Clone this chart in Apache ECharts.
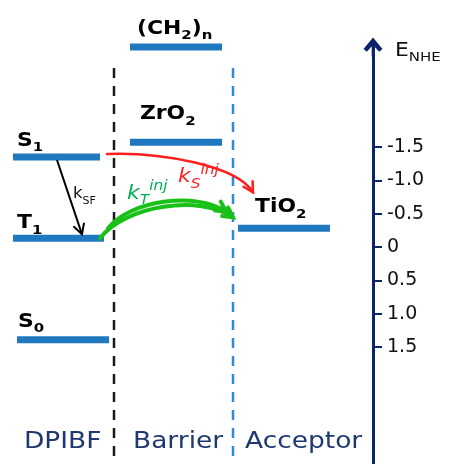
<!DOCTYPE html>
<html><head><meta charset="utf-8">
<script src="https://cdn.jsdelivr.net/npm/echarts@6/dist/echarts.min.js"></script>
<style>html,body{margin:0;padding:0;background:#fff}#c{width:449px;height:464px}</style>
</head><body><div id="c"></div>
<script>
// ---------------- data ----------------
const columns = ['DPIBF', 'Barrier', 'Acceptor'];
const levelNames = ['S1', 'T1', 'S0', '(CH2)n', 'ZrO2', 'TiO2'];
const levelLabels = ['S{sb|1}', 'T{sb|1}', 'S{sb|0}', '(CH{sb|2}){sb|n}', 'ZrO{sb|2}', 'TiO{sb|2}'];
const levelEnergy = [-1.35, -0.13, 1.39, -3.0, -1.57, -0.28];
const levelColumn = [0, 0, 0, 1, 1, 2];
const tickValues = [-1.5, -1.0, -0.5, 0, 0.5, 1.0, 1.5];
const tickLabels = ['-1.5', '-1.0', '-0.5', '0', '0.5', '1.0', '1.5'];
const transFrom = [0, 0, 1];
const transTo = [1, 5, 5];
const transLabels = ['k{sb|SF}', 'k{sb|S}{sp|inj}', 'k{sb|T}{sp|inj}'];
const axisTitle = 'E{sb|NHE}';

// ---------------- layout / style ----------------
const W = 449, H = 464, AXIS_X = 373;
const PX_PER_EV = 66.7, ZERO_Y = 247, AX_TOP = 47;
const Y_MIN = (AX_TOP - ZERO_Y) / PX_PER_EV, Y_MAX = (H - ZERO_Y) / PX_PER_EV;
const NAVY = '#0c2468', BAR = '#1f78c0', HEAD_NAVY = '#1f3870';
const FONT = 'DejaVu Sans';
const STRETCH = 1.15;
const LEVEL_SPAN = [[13, 100], [13, 104], [17, 109], [130, 222], [130, 222], [238, 330]];
const LABEL_POS = [[4, 16], [4, 15], [1, 18], [7, 18], [10, 28], [17, 21]];
const COLUMN_X = [24, 133, 245], COLUMN_Y = 442;
const SEP = [{ x: 114, color: '#1a1a1a' }, { x: 233, color: '#2f8ad4' }], SEP_TOP = 68;
const ARROW_STYLE = [
  { color: '#000', width: 2, text: '#111', size: 15, italic: false, label: [16, 34] },
  { color: '#ff1f1f', width: 2.5, text: '#ff2020', size: 20, italic: true, label: [71, 23] },
  { color: '#18c018', width: 4, text: '#00b050', size: 20, italic: true, label: [27, -45] }
];
const ARROW_CURVES = [
  [{ x0: 57, dy0: 3, x1: 82, dy1: -4 }],
  [{ x0: 107, dy0: -3, x1: 253, dy1: -36, c1: [53, -2], c2: [-16, -27] }],
  [{ x0: 100, dy0: 0, x1: 233, dy1: -11, c1: [25, -33], c2: [-33, -23] },
   { x0: 108, dy0: -10, x1: 226, dy1: -17, c1: [22, -28], c2: [-31, -20] }]
];

function richFor(size, weight, style, color) {
  const base = { fontFamily: FONT, fontWeight: weight, fontStyle: style, fill: color };
  return {
    sb: Object.assign({}, base, { fontSize: Math.round(size * 0.68), padding: [14, 0, 0, 0] }),
    sp: Object.assign({}, base, { fontSize: Math.round(size * 0.68), padding: [0, 0, 14, 0] })
  };
}
function textEl(x, y, text, size, weight, style, color, sx) {
  return {
    type: 'text', x: x, y: y, scaleX: sx || 1,
    style: {
      text: text, fontSize: size, fontFamily: FONT, fontWeight: weight, fontStyle: style,
      fill: color, align: 'left', verticalAlign: 'middle', rich: richFor(size, weight, style, color)
    }
  };
}
function arrowHead(tip, from, len, ang, color, lw) {
  const a = Math.atan2(tip[1] - from[1], tip[0] - from[0]);
  const p1 = [tip[0] - len * Math.cos(a - ang), tip[1] - len * Math.sin(a - ang)];
  const p2 = [tip[0] - len * Math.cos(a + ang), tip[1] - len * Math.sin(a + ang)];
  return { type: 'polyline', shape: { points: [p1, tip, p2] },
    style: { stroke: color, lineWidth: lw, fill: 'none', lineJoin: 'miter', lineCap: 'round' } };
}

const chart = echarts.init(document.getElementById('c'), null, { renderer: 'canvas' });
chart.setOption({
  animation: false,
  backgroundColor: '#fff',
  grid: { left: 0, right: W - AXIS_X, top: AX_TOP, bottom: 0 },
  xAxis: { type: 'value', min: 0, max: AXIS_X, show: false },
  yAxis: {
    type: 'value', position: 'right', inverse: true, min: Y_MIN, max: Y_MAX,
    splitLine: { show: false },
    axisLine: {
      show: true, onZero: false, lineStyle: { color: NAVY, width: 3 },
      symbol: ['none', 'path://M10,0 L20,12 L16.5,15 L10,8 L3.5,15 L0,12 Z M8.6,2 L11.4,2 L11.4,20 L8.6,20 Z'],
      symbolSize: [19, 19]
    },
    axisTick: { show: true, length: 9, customValues: tickValues, lineStyle: { color: NAVY, width: 2 } },
    axisLabel: {
      customValues: tickValues, margin: 14, color: '#111', fontSize: 19, fontFamily: FONT, align: 'left',
      formatter: function (v) { const i = tickValues.findIndex(t => Math.abs(t - v) < 1e-6); return i >= 0 ? tickLabels[i] : ''; }
    }
  },
  graphic: [
    textEl(395, 51, axisTitle, 19, 'normal', 'normal', '#111', STRETCH)
  ].concat(columns.map((c, i) => textEl(COLUMN_X[i], COLUMN_Y, c, 23, 'normal', 'normal', HEAD_NAVY, STRETCH))),
  series: [
    {
      type: 'custom', name: 'separators', clip: false, silent: true,
      data: SEP.map((s, i) => [i, 0]),
      renderItem: function (params, api) {
        const s = SEP[params.dataIndex];
        const x = api.coord([s.x, 0])[0];
        return { type: 'line', shape: { x1: x, y1: SEP_TOP, x2: x, y2: api.getHeight() },
          style: { stroke: s.color, lineWidth: 2.5, lineDash: [10, 8], fill: 'none' } };
      }
    },
    {
      type: 'custom', name: 'levels', clip: false, silent: true,
      data: levelEnergy.map((e, i) => [i, e]),
      renderItem: function (params, api) {
        const i = params.dataIndex, e = api.value(1);
        const p0 = api.coord([LEVEL_SPAN[i][0], e]);
        const p1 = api.coord([LEVEL_SPAN[i][1], e]);
        return { type: 'group', children: [
          { type: 'rect', shape: { x: p0[0], y: p0[1] - 3.5, width: p1[0] - p0[0], height: 7 }, style: { fill: BAR } },
          textEl(p0[0] + LABEL_POS[i][0], p0[1] - LABEL_POS[i][1], levelLabels[i], 19, 'bold', 'normal', '#000', STRETCH)
        ] };
      }
    },
    {
      type: 'custom', name: 'transitions', clip: false, silent: true,
      data: transFrom.map((f, i) => [i, levelEnergy[f], levelEnergy[transTo[i]]]),
      renderItem: function (params, api) {
        const i = params.dataIndex, st = ARROW_STYLE[i];
        const eFrom = api.value(1), eTo = api.value(2);
        const children = [];
        let first = null;
        ARROW_CURVES[i].forEach(function (c) {
          const a = api.coord([c.x0, eFrom]); a[1] += c.dy0;
          const b = api.coord([c.x1, eTo]); b[1] += c.dy1;
          if (!first) first = a;
          let from;
          if (c.c1) {
            const q1 = [a[0] + c.c1[0], a[1] + c.c1[1]], q2 = [b[0] + c.c2[0], b[1] + c.c2[1]];
            children.push({ type: 'bezierCurve', shape: { x1: a[0], y1: a[1], x2: b[0], y2: b[1], cpx1: q1[0], cpy1: q1[1], cpx2: q2[0], cpy2: q2[1] },
              style: { stroke: st.color, lineWidth: st.width, fill: 'none', lineCap: 'round' } });
            from = q2;
          } else {
            children.push({ type: 'line', shape: { x1: a[0], y1: a[1], x2: b[0], y2: b[1] },
              style: { stroke: st.color, lineWidth: st.width, fill: 'none' } });
            from = a;
          }
          children.push(arrowHead(b, from, 11, 0.5, st.color, st.width));
        });
        children.push(textEl(first[0] + st.label[0], first[1] + st.label[1], transLabels[i], st.size, 'normal', st.italic ? 'italic' : 'normal', st.text, 1.1));
        return { type: 'group', children: children };
      }
    }
  ]
});
</script></body></html>
